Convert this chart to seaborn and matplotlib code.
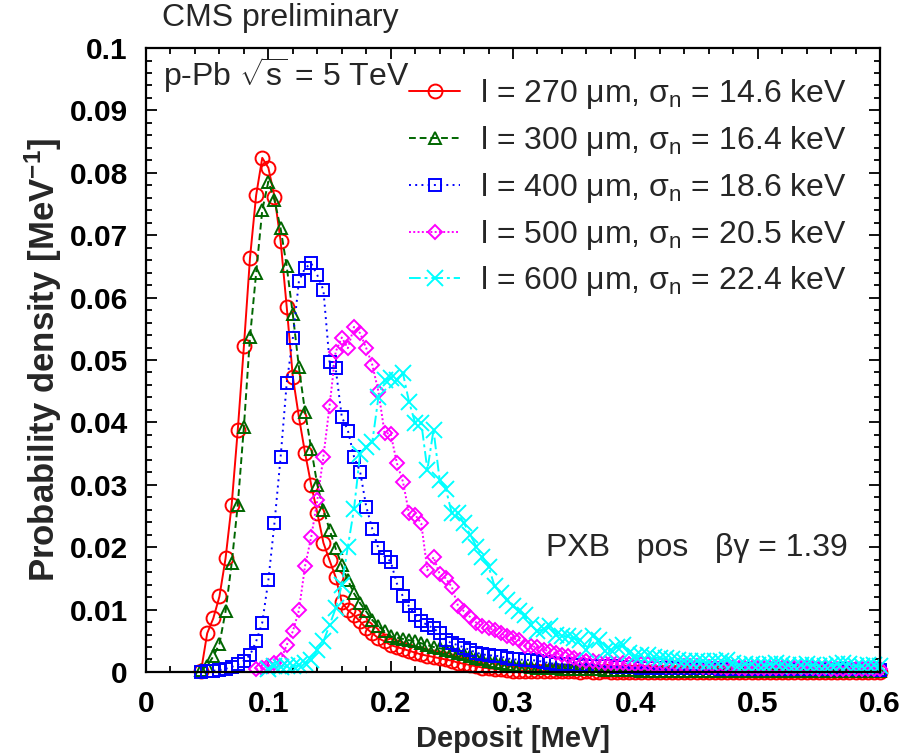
import numpy as np
import pandas as pd
import matplotlib
matplotlib.use("Agg")
import matplotlib.pyplot as plt
import seaborn as sns
from matplotlib.ticker import MultipleLocator, FuncFormatter

nan = np.nan
# bin centres of the deposit histogram [MeV]
deposit = np.round(np.arange(0.045, 0.6001, 0.005), 3)

labels = [
    "l = 270 μm, σ$_\\mathrm{n}$ = 14.6 keV",
    "l = 300 μm, σ$_\\mathrm{n}$ = 16.4 keV",
    "l = 400 μm, σ$_\\mathrm{n}$ = 18.6 keV",
    "l = 500 μm, σ$_\\mathrm{n}$ = 20.5 keV",
    "l = 600 μm, σ$_\\mathrm{n}$ = 22.4 keV",
]

d270 = [
    .0002, .0062, .0086, .0121, .0182, .0268, .0388, .0522, .0664, .0764,
    .0824, .0808, .0762, .0691, .0585, .0473, .0408, .0351, .0300, .0255,
    .0207, .0179, .0152, .0112, .0099, .0091, .0081, .0070, .0062, .0054,
    .0049, .0043, .0040, .0037, .0034, .0031, .0028, .0026, .0024, .0022,
    .0020, .0018, .0015, .0013, .0011, .0009, .0007, .0006, .0005, .0004,
    .0003, .0002, .0002, .0002, .0001, .0001, .0001, .0001, .0001, .0001,
    .0001, .0001, .0000, .0001, .0000, .0000, .0001, .0000, .0000, .0000,
    .0000, .0000, .0000, .0000, .0000, .0000, .0000, .0000, .0000, .0000,
    .0000, .0000, .0000, .0000, .0000, .0000, .0000, .0000, .0000, .0000,
    .0000, .0000, .0000, .0000, .0000, .0000, .0000, .0000, .0000, .0000,
    .0000, .0000, .0000, .0000, .0000, .0000, .0000, .0000, .0000, .0000,
    .0000, .0000,
]
d300 = [
    .0003, .0010, .0025, .0045, .0097, .0174, .0268, .0393, .0537, .0639,
    .0740, .0786, .0756, .0711, .0650, .0573, .0488, .0417, .0358, .0300,
    .0260, .0228, .0198, .0171, .0147, .0126, .0110, .0097, .0083, .0073,
    .0065, .0057, .0055, .0053, .0051, .0049, .0046, .0043, .0040, .0038,
    .0036, .0034, .0031, .0029, .0026, .0023, .0021, .0018, .0016, .0014,
    .0013, .0011, .0010, .0009, .0008, .0007, .0007, .0006, .0006, .0005,
    .0005, .0005, .0004, .0004, .0004, .0004, .0003, .0003, .0003, .0003,
    .0003, .0003, .0002, .0002, .0002, .0002, .0002, .0002, .0002, .0002,
    .0002, .0002, .0001, .0001, .0001, .0001, .0001, .0001, .0001, .0001,
    .0001, .0001, .0001, .0001, .0001, .0001, .0001, .0001, .0001, .0001,
    .0001, .0001, .0001, .0001, .0001, .0001, .0001, .0001, .0001, .0001,
    .0001, .0001,
]
d400 = [
    .0000, .0001, .0002, .0003, .0005, .0008, .0012, .0018, .0027, .0049,
    .0079, .0147, .0239, .0344, .0463, .0535, .0627, .0647, .0655, .0636,
    .0612, .0497, .0487, .0409, .0387, .0345, .0321, .0265, .0229, .0198,
    .0185, .0177, .0142, .0121, .0105, .0091, .0081, .0075, .0070, .0062,
    .0051, .0046, .0043, .0039, .0035, .0031, .0028, .0027, .0026, .0025,
    .0022, .0020, .0020, .0019, .0019, .0018, .0016, .0014, .0013, .0012,
    .0012, .0011, .0011, .0010, .0010, .0009, .0009, .0009, .0008, .0008,
    .0008, .0008, .0007, .0007, .0007, .0007, .0007, .0006, .0006, .0006,
    .0006, .0006, .0006, .0006, .0006, .0005, .0005, .0005, .0005, .0005,
    .0005, .0005, .0005, .0005, .0005, .0005, .0004, .0004, .0004, .0004,
    .0004, .0004, .0004, .0004, .0004, .0004, .0004, .0004, .0004, .0004,
    .0004, .0003,
]
d500 = [
    nan, nan, nan, nan, nan, nan, nan, nan, nan, .0004,
    .0006, .0009, .0014, .0019, .0043, .0065, .0099, .0170, .0216, .0275,
    .0345, .0426, .0513, .0536, .0519, .0553, .0543, .0519, .0492, .0449,
    .0383, .0382, .0335, .0305, .0254, .0252, .0238, .0163, .0184, .0157,
    .0150, .0136, .0106, .0097, .0088, .0079, .0073, .0070, .0067, .0062,
    .0057, .0054, .0051, .0042, .0041, .0040, .0036, .0033, .0030, .0027,
    .0025, .0022, .0019, .0018, .0017, .0016, .0015, .0015, .0014, .0014,
    .0013, .0013, .0012, .0012, .0011, .0011, .0010, .0010, .0010, .0009,
    .0009, .0009, .0008, .0008, .0008, .0008, .0007, .0008, .0007, .0007,
    .0007, .0007, .0006, .0007, .0006, .0006, .0006, .0006, .0006, .0006,
    .0006, .0005, .0006, .0005, .0005, .0005, .0005, .0005, .0005, .0005,
    .0005, .0005,
]
d600 = [
    nan, nan, nan, nan, nan, nan, nan, nan, nan, nan,
    nan, .0005, .0009, .0008, .0009, .0009, .0011, .0014, .0019, .0035,
    .0049, .0075, .0102, .0139, .0201, .0261, .0350, .0361, .0369, .0441,
    .0468, .0471, .0468, .0479, .0433, .0399, .0399, .0324, .0388, .0308,
    .0294, .0254, .0254, .0238, .0220, .0201, .0185, .0169, .0137, .0126,
    .0115, .0105, .0098, .0091, .0075, .0065, .0069, .0073, .0059, .0058,
    .0057, .0054, .0051, .0035, .0057, .0051, .0033, .0036, .0040, .0043,
    .0030, .0025, .0027, .0027, .0024, .0022, .0022, .0020, .0019, .0018,
    .0017, .0018, .0017, .0016, .0017, .0018, .0019, .0014, .0011, .0012,
    .0013, .0011, .0011, .0012, .0014, .0012, .0011, .0010, .0011, .0012,
    .0011, .0010, .0009, .0011, .0012, .0014, .0012, .0010, .0009, .0011,
    .0011, .0009,
]

series = [d270, d300, d400, d500, d600]
colors = ["#ff0000", "#006600", "#0000ff", "#ff00ff", "#00ffff"]
markers = ["o", "^", "s", "D", "x"]
msizes = [10, 9, 9, 7, 12]
lstyles = ["-", (0, (3.5, 2)), (0, (1, 2.2)), (0, (1, 1.2)), (0, (6, 2, 1.5, 2))]

sns.set_style("ticks")
plt.rcParams["font.family"] = ["Liberation Sans", "DejaVu Sans"]
plt.rcParams["mathtext.fontset"] = "custom"
plt.rcParams["mathtext.rm"] = "Liberation Sans"
plt.rcParams["mathtext.it"] = "Liberation Sans:italic"
plt.rcParams["mathtext.bf"] = "Liberation Sans:bold"
plt.rcParams["mathtext.sf"] = "Liberation Sans"

fig = plt.figure(figsize=(9.11, 7.54), dpi=100)
ax = fig.add_axes([0.1603, 0.1088, 0.8057, 0.8275])

for vals, lab, c, m, ms, ls in zip(series, labels, colors, markers, msizes, lstyles):
    df = pd.DataFrame({"deposit": deposit, "density": vals}).dropna()
    mkw = dict(markerfacecolor="none", markeredgecolor=c) if m != "x" else dict(markeredgecolor=c)
    sns.lineplot(data=df, x="deposit", y="density", ax=ax, color=c, linestyle=ls,
                 linewidth=1.4, marker=m, markersize=ms, markeredgewidth=1.4,
                 label=lab, clip_on=False, **mkw)

ax.set_xlim(0, 0.6)
ax.set_ylim(0, 0.1)
ax.xaxis.set_major_locator(MultipleLocator(0.1))
ax.xaxis.set_minor_locator(MultipleLocator(0.02))
ax.yaxis.set_major_locator(MultipleLocator(0.01))
ax.yaxis.set_minor_locator(MultipleLocator(0.002))
fmt = FuncFormatter(lambda v, p: f"{v:.2f}".rstrip("0").rstrip(".") if abs(v) > 1e-9 else "0")
ax.xaxis.set_major_formatter(fmt)
ax.yaxis.set_major_formatter(fmt)
ax.tick_params(which="both", direction="in", top=True, right=True, width=1.3, colors="black")
ax.tick_params(which="major", length=8, pad=13, labelsize=21.5)
ax.tick_params(which="minor", length=4.5)
for t in ax.get_xticklabels() + ax.get_yticklabels():
    t.set_fontweight("bold")
for s in ax.spines.values():
    s.set_linewidth(1.6)
    s.set_color("black")

ax.set_xlabel("Deposit [MeV]", fontsize=21, fontweight="bold", labelpad=5)
ax.set_ylabel("Probability density [MeV$^{\\mathbf{-1}}$]", fontsize=25, fontweight="bold", labelpad=4)

leg = ax.legend(loc="upper right", bbox_to_anchor=(0.955, 0.953), frameon=False, fontsize=23,
                handlelength=1.6, handletextpad=0.62, labelspacing=0.4, borderpad=0,
                borderaxespad=0, numpoints=1)

ax.text(0.023, 0.957, "p-Pb $\\sqrt{\\mathrm{s}}$ = 5 TeV", transform=ax.transAxes, fontsize=23,
        ha="left", va="center")
ax.text(0.545, 0.199, "PXB   pos   βγ = 1.39", transform=ax.transAxes, fontsize=23,
        ha="left", va="center")
fig.text(162 / 911, 1 - 18 / 754, "CMS preliminary", fontsize=23, ha="left", va="center")

fig.savefig("out.png", dpi=100)
